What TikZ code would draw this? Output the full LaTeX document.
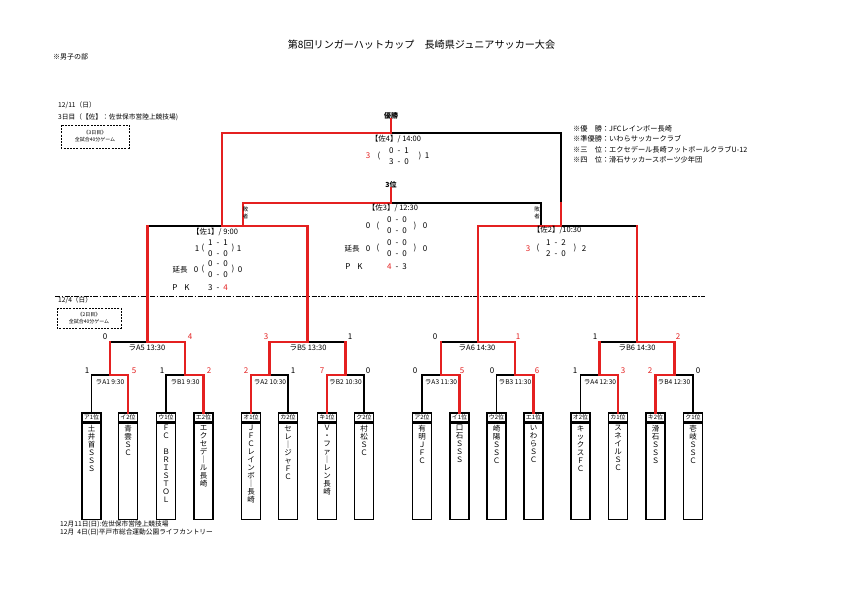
\documentclass[tikz,border=0pt]{standalone}
\usepackage{fontspec}
\setmainfont{Noto Sans CJK JP}
\definecolor{rd}{RGB}{228,32,32}
\newcommand\twosc[2]{#1\hspace{4pt}-\hspace{4pt}#2}
\tikzset{
  rl/.style={draw=rd, line width=2.5pt, line cap=rect},
  bl/.style={draw=black, line width=1.7pt, line cap=rect},
  hdr/.style={draw, line width=1.4pt, minimum width=19pt, minimum height=9pt, inner sep=0pt, font=\fontsize{6}{6}\selectfont},
  body/.style={draw, line width=1.4pt, minimum width=19pt, minimum height=96pt, inner sep=0pt, anchor=north},
  nm/.style={inner sep=0pt, anchor=north, align=center, font=\fontsize{7.5}{8}\selectfont},
  sc/.style={inner sep=0pt, font=\fontsize{8}{8}\selectfont},
  scr/.style={sc, text=rd},
  lb/.style={inner sep=0pt, font=\fontsize{7.5}{8}\selectfont},
  lbs/.style={inner sep=0pt, font=\fontsize{6.6}{7}\selectfont},
  tx/.style={inner sep=0pt, anchor=west, font=\fontsize{7}{8}\selectfont},
  nt/.style={tx, font=\fontsize{7.2}{8}\selectfont},
  dbox/.style={draw, line width=0.7pt, dash pattern=on 2pt off 1.2pt},
  sm/.style={inner sep=0pt, align=center, font=\fontsize{5}{7}\selectfont},
}
\begin{document}
\begin{tikzpicture}[x=1pt,y=-1pt]
\useasboundingbox (0,0) rectangle (842,595);
\fill[white] (0,0) rectangle (842,595);

% title and header texts
\node[inner sep=0pt, font=\fontsize{10.1}{11}\selectfont] (title) at (421.5,45) {第8回リンガーハットカップ　長崎県ジュニアサッカー大会};
\node[tx] (boys) at (53,57) {※男子の部};
\node[tx, font=\fontsize{6.7}{7}\selectfont] (d11) at (58,105) {12/11（日）};
\node[tx, font=\fontsize{6.7}{7}\selectfont] (v3) at (58,117) {3日目（【佐】：佐世保市営陸上競技場)};
\draw[dbox] (61,125) rectangle (129,148);
\node[sm] (b3) at (95,136.5) {《3日目》\\全試合40分ゲーム};

% results notes
\node[nt] (r1) at (573,129) {※優　勝：JFCレインボー長崎};
\node[nt] (r2) at (573,139) {※準優勝：いわらサッカークラブ};
\node[nt] (r3) at (573,149.5) {※三　位：エクセデール長崎フットボールクラブU-12};
\node[nt] (r4) at (573,160) {※四　位：滑石サッカースポーツ少年団};

% day 2 separator
\coordinate (dl) at (55,296);
\coordinate (dr) at (705,296);
\draw[line width=0.8pt, dash pattern=on 5pt off 1.5pt on 1.5pt off 1.5pt] (dl) -- (dr);
\node[tx, font=\fontsize{6.7}{7}\selectfont] (d4) at (58,300) {12/4（日）};
\draw[dbox] (57,308) rectangle (121,328);
\node[sm] (b2) at (89,318.5) {《2日目》\\全試合40分ゲーム};

% bottom notes
\node[tx, font=\fontsize{6.7}{7}\selectfont] (n1) at (60,524) {12月11日(日):佐世保市営陸上競技場};
\node[tx, font=\fontsize{6.7}{7}\selectfont] (n2) at (60,532) {12月\ \ 4日(日)平戸市総合運動公園ライフカントリー};

% team boxes
\foreach \n/\x/\h in {1/91.5/ア1位, 2/128/イ2位, 3/166/ウ1位, 4/203.5/エ2位, 5/251/オ1位, 6/288/カ2位, 7/327/キ1位, 8/364/ク2位,
                      9/422/ア2位, 10/459.5/イ1位, 11/496.5/ウ2位, 12/533.5/エ1位, 13/580.5/オ2位, 14/618/カ1位, 15/655.5/キ2位, 16/693/ク1位}{
  \node[hdr] (t\n) at (\x,417.5) {\h};
  \node[body] (b\n) at (t\n.south) {};
}
\node[nm] at ([yshift=-2.5pt]b1.north) {土\\井\\首\\Ｓ\\Ｓ\\Ｓ};
\node[nm] at ([yshift=-2.5pt]b2.north) {青\\雲\\Ｓ\\Ｃ};
\node[nm] at ([yshift=-2.5pt]b3.north) {Ｆ\\Ｃ\\　\\Ｂ\\Ｒ\\Ｉ\\Ｓ\\Ｔ\\Ｏ\\Ｌ};
\node[nm] at ([yshift=-2.5pt]b4.north) {エ\\ク\\セ\\デ\\｜\\ル\\長\\崎};
\node[nm] at ([yshift=-2.5pt]b5.north) {Ｊ\\Ｆ\\Ｃ\\レ\\イ\\ン\\ボ\\｜\\長\\崎};
\node[nm] at ([yshift=-2.5pt]b6.north) {セ\\レ\\｜\\ジ\\ャ\\Ｆ\\Ｃ};
\node[nm] at ([yshift=-2.5pt]b7.north) {Ｖ\\・\\フ\\ァ\\｜\\レ\\ン\\長\\崎};
\node[nm] at ([yshift=-2.5pt]b8.north) {村\\松\\Ｓ\\Ｃ};
\node[nm] at ([yshift=-2.5pt]b9.north) {有\\明\\Ｊ\\Ｆ\\Ｃ};
\node[nm] at ([yshift=-2.5pt]b10.north) {口\\石\\Ｓ\\Ｓ\\Ｓ};
\node[nm] at ([yshift=-2.5pt]b11.north) {崎\\陽\\Ｓ\\Ｓ\\Ｃ};
\node[nm] at ([yshift=-2.5pt]b12.north) {い\\わ\\ら\\Ｓ\\Ｃ};
\node[nm] at ([yshift=-2.5pt]b13.north) {キ\\ッ\\ク\\ス\\Ｆ\\Ｃ};
\node[nm] at ([yshift=-2.5pt]b14.north) {ス\\ネ\\イ\\ル\\Ｓ\\Ｃ};
\node[nm] at ([yshift=-2.5pt]b15.north) {滑\\石\\Ｓ\\Ｓ\\Ｓ};
\node[nm] at ([yshift=-2.5pt]b16.north) {壱\\岐\\Ｓ\\Ｓ\\Ｃ};

% match junctions
\coordinate (A1) at (109.75,375);
\coordinate (B1) at (184.75,375);
\coordinate (A2) at (269.5,375);
\coordinate (B2) at (345.5,375);
\coordinate (A3) at (440.75,375);
\coordinate (B3) at (515,375);
\coordinate (A4) at (599.25,375);
\coordinate (B4) at (674.25,375);
\coordinate (A5) at (147.25,342);
\coordinate (B5) at (307.5,342);
\coordinate (A6) at (477.9,342);
\coordinate (B6) at (636.75,342);
\coordinate (SF1) at (222,226);
\coordinate (SF1b) at (243,226);
\coordinate (SF2) at (561,226);
\coordinate (SF2b) at (541,226);
\coordinate (SF2m) at (561,203);
\coordinate (Fin) at (391,133);
\coordinate (Thd) at (391,203);

\node[inner sep=0pt, font=\bfseries\fontsize{7}{8}\selectfont] (win) at (391,116) {優勝};
\node[inner sep=0pt, font=\bfseries\fontsize{7}{8}\selectfont] (third) at (391,185) {3位};

% black lines (losers)
\draw[bl] (t1.north) |- (A1);
\draw[bl] (t3.north) |- (B1);
\draw[bl] (t6.north) |- (A2);
\draw[bl] (t8.north) |- (B2);
\draw[bl] (t9.north) |- (A3);
\draw[bl] (t11.north) |- (B3);
\draw[bl] (t13.north) |- (A4);
\draw[bl] (t16.north) |- (B4);
\draw[bl] (A1|-A5) -- (A5);
\draw[bl] (B2|-B5) -- (B5);
\draw[bl] (A3|-A6) -- (A6);
\draw[bl] (A4|-B6) -- (B6);
\draw[bl] (A5|-SF1) -- (SF1);
\draw[bl] (B6|-SF2) -- (SF2);
\draw[bl] (SF2m) |- (Fin);
\draw[bl] (SF2b) |- (Thd);

% red lines (winners)
\draw[rl] (t2.north) |- (A1);
\draw[rl] (t4.north) |- (B1);
\draw[rl] (t5.north) |- (A2);
\draw[rl] (t7.north) |- (B2);
\draw[rl] (t10.north) |- (A3);
\draw[rl] (t12.north) |- (B3);
\draw[rl] (t14.north) |- (A4);
\draw[rl] (t15.north) |- (B4);
\draw[rl] (A1) -- (A1|-A5);
\draw[rl] (B1) |- (A5);
\draw[rl] (A2) |- (B5);
\draw[rl] (B2) -- (B2|-B5);
\draw[rl] (A3) -- (A3|-A6);
\draw[rl] (B3) |- (A6);
\draw[rl] (A4) -- (A4|-B6);
\draw[rl] (B4) |- (B6);
\draw[rl] (A5) -- (A5|-SF1);
\draw[rl] (B5) |- (SF1);
\draw[rl] (A6) |- (SF2);
\draw[rl] (B6) -- (B6|-SF2);
\draw[rl] (SF1) |- (Fin);
\draw[rl] (SF2) -- (SF2m);
\draw[rl] (Fin) -- (win.south);
\draw[rl] (SF1b) |- (Thd);
\draw[rl] (Thd) -- (third.south);

% loser labels
\node[inner sep=0pt, align=center, font=\fontsize{5.5}{7}\selectfont] (los1) at (245.5,212.5) {敗\\者};
\node[inner sep=0pt, align=center, font=\fontsize{5.5}{7}\selectfont] (los2) at (537,212.5) {敗\\者};

% round labels and scores
\foreach \x/\t in {110/ラA1 9:30, 185/ラB1 9:30, 270/ラA2 10:30, 345.5/ラB2 10:30, 441/ラA3 11:30, 515/ラB3 11:30, 600/ラA4 12:30, 674/ラB4 12:30}
  \node[lbs] at (\x,382) {\t};
\foreach \x/\t in {147/ラA5 13:30, 308/ラB5 13:30, 477/ラA6 14:30, 637/ラB6 14:30}
  \node[lb] at (\x,348) {\t};

\foreach \x/\s in {87/1, 162/1, 293/1, 368/0, 415/0, 492/0, 575/1, 698/0}
  \node[sc] at (\x,371) {\s};
\foreach \x/\s in {134/5, 209/2, 246/2, 322/7, 462/5, 537/6, 623/3, 650/2}
  \node[scr] at (\x,371) {\s};
\foreach \x/\s in {105/0, 350/1, 435/0, 595/1}
  \node[sc] at (\x,337) {\s};
\foreach \x/\s in {190/4, 266/3, 518/1, 678/2}
  \node[scr] at (\x,337) {\s};

% final
\node[lb] (hf) at (396,139) {【佐4】/ 14:00};
\node[scr] at (368,156) {3};
\node[sc] at (379,156) {(};
\node[sc] at (399,151) {\twosc{0}{1}};
\node[sc] at (399,162) {\twosc{3}{0}};
\node[sc] at (420,156) {)};
\node[sc] at (427,156) {1};

% third place
\node[lb] (h3) at (393,208) {【佐3】/ 12:30};
\node[sc] at (368,226) {0};
\node[sc] at (378,226) {(};
\node[sc] at (397,220) {\twosc{0}{0}};
\node[sc] at (397,231) {\twosc{0}{0}};
\node[sc] at (415,226) {)};
\node[sc] at (425,226) {0};
\node[lb] at (352,248.5) {延長};
\node[sc] at (368,248.5) {0};
\node[sc] at (378,248.5) {(};
\node[sc] at (397,243) {\twosc{0}{0}};
\node[sc] at (397,254) {\twosc{0}{0}};
\node[sc] at (415,248.5) {)};
\node[sc] at (425,248.5) {0};
\node[sc] at (354,267) {P\hspace{7pt}K};
\node[sc] at (397,267) {\twosc{\textcolor{rd}{4}}{3}};

% semifinal 1
\node[lb] (h1) at (215,232) {【佐1】/ 9:00};
\node[sc] at (197,248.5) {1};
\node[sc] at (203,248.5) {(};
\node[sc] at (218,243) {\twosc{1}{1}};
\node[sc] at (218,254) {\twosc{0}{0}};
\node[sc] at (233,248.5) {)};
\node[sc] at (239,248.5) {1};
\node[lb] at (180,269.5) {延長};
\node[sc] at (196,269.5) {0};
\node[sc] at (203,269.5) {(};
\node[sc] at (218,264) {\twosc{0}{0}};
\node[sc] at (218,275) {\twosc{0}{0}};
\node[sc] at (233,269.5) {)};
\node[sc] at (240,269.5) {0};
\node[sc] at (181,288) {P\hspace{7pt}K};
\node[sc] at (218,288) {\twosc{3}{\textcolor{rd}{4}}};

% semifinal 2
\node[lb] (h2) at (557,230) {【佐2】/10:30};
\node[scr] at (528,248.5) {3};
\node[sc] at (538,248.5) {(};
\node[sc] at (556,243) {\twosc{1}{2}};
\node[sc] at (556,254) {\twosc{2}{0}};
\node[sc] at (575,248.5) {)};
\node[sc] at (584,248.5) {2};
\end{tikzpicture}
\end{document}
